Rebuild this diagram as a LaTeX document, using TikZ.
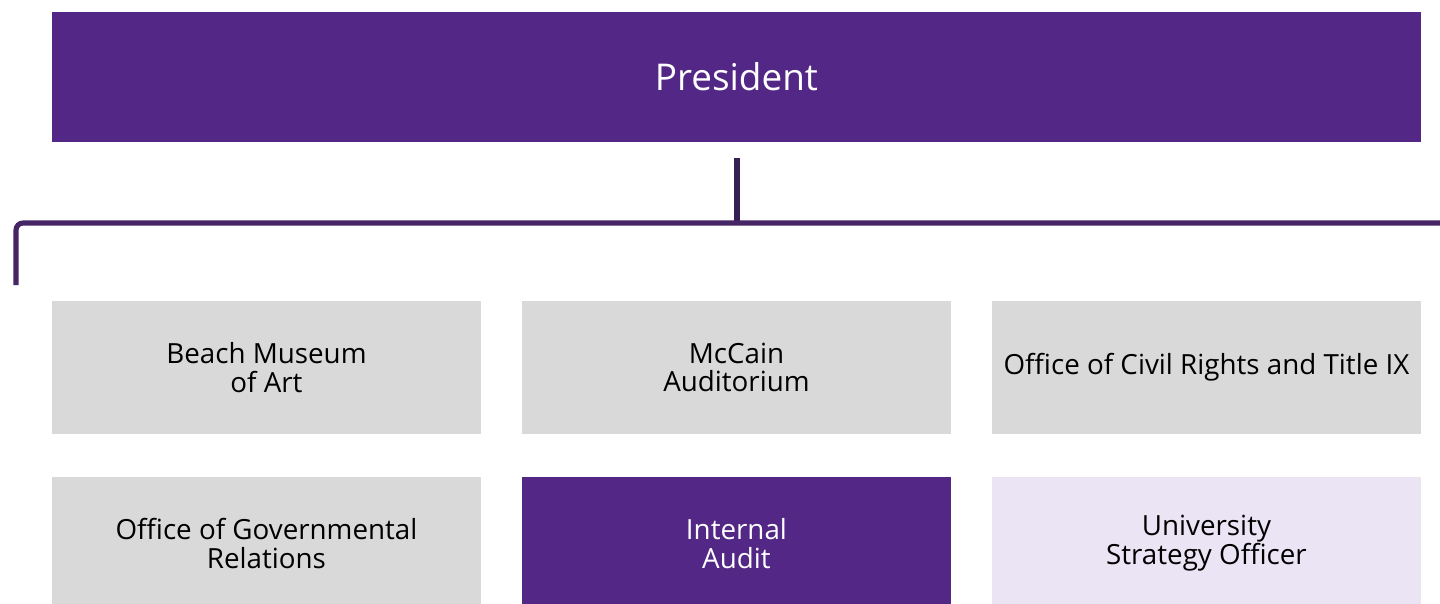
\documentclass[tikz,border=0pt]{standalone}
\usepackage{fontspec}
\setmainfont{Open Sans}
\usetikzlibrary{positioning}
\definecolor{kspurple}{HTML}{532785}
\definecolor{kslines}{HTML}{452566}
\definecolor{ksdark}{HTML}{351F54}
\definecolor{ksgray}{HTML}{D9D9D9}
\definecolor{kslilac}{HTML}{EBE4F5}

\begin{document}
\begin{tikzpicture}[x=0.02cm, y=-0.02cm, node distance=0cm, outer sep=0pt]

\tikzstyle{unit}=[rectangle, fill=ksgray, minimum height=2.66cm, minimum width=8.58cm, align=center, font=\fontsize{15.8}{16.4}\selectfont, anchor=north west, inner sep=0pt]
\tikzstyle{lead}=[unit, fill=kspurple, text=white]

\useasboundingbox (0,0) rectangle (1440,603);

\node[lead, minimum width=27.38cm, minimum height=2.6cm, font=\fontsize{21}{24}\selectfont] (pres) at (52,12) {President};

\node[unit] (beach) at (52,301) {Beach Museum\\of Art};
\node[unit] (mccain) at (522,301) {McCain\\Auditorium};
\node[unit] (civil) at (992,301) {Office of Civil Rights and Title IX};
\node[unit, minimum height=2.66cm] (govrel) at (52,477) {Office of Governmental\\Relations};
\node[lead, minimum height=2.66cm] (audit) at (522,477) {Internal\\Audit};
\node[unit, fill=kslilac, minimum height=2.66cm] (strat) at (992,477) {University\\Strategy Officer};

\coordinate (drop) at (737,158);
\coordinate (join) at (737,223);
\coordinate (barL) at (16,285);
\coordinate (barR) at (1440,223);

\draw[ksdark, line width=3.2pt] (drop) -- (join);
\draw[kslines, line width=2.9pt, rounded corners=4pt] (barL) |- (barR);

\end{tikzpicture}
\end{document}
